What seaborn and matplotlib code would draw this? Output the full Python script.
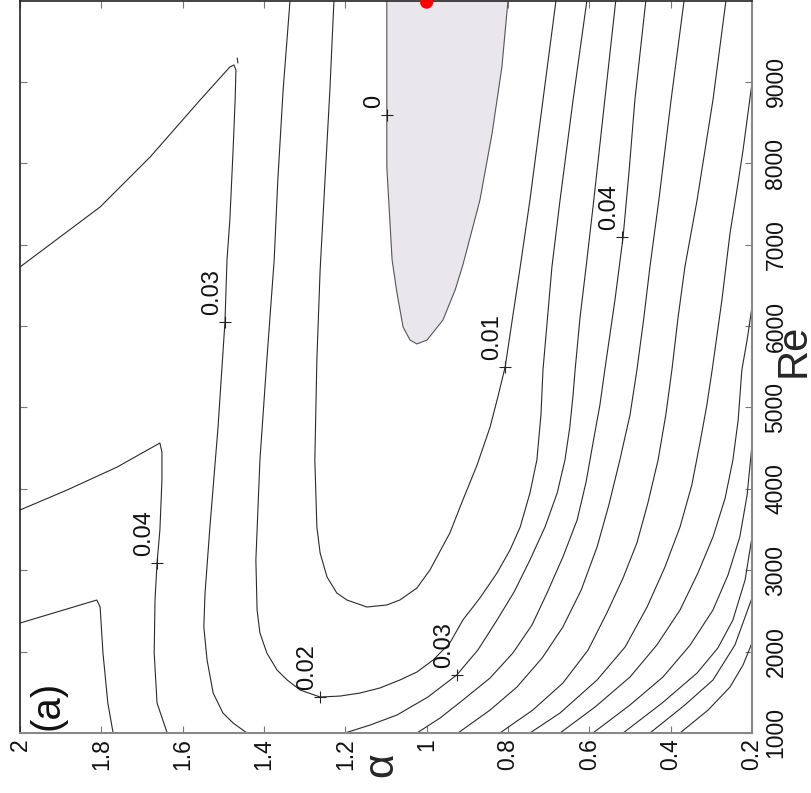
import matplotlib
matplotlib.use("Agg")
import matplotlib.pyplot as plt
import seaborn as sns

sns.set_style("ticks")
plt.rcParams['font.family'] = ['Liberation Sans', 'DejaVu Sans']

# ---- axis ticks -------------------------------------------------------
alpha_ticks = [2.0, 1.8, 1.6, 1.4, 1.2, 1.0, 0.8, 0.6, 0.4, 0.2]
alpha_tick_labels = ['2', '1.8', '1.6', '1.4', '1.2', '1', '0.8', '0.6', '0.4', '0.2']
re_ticks = [1000, 2000, 3000, 4000, 5000, 6000, 7000, 8000, 9000]
re_tick_labels = ['1000', '2000', '3000', '4000', '5000', '6000', '7000', '8000', '9000']

# ---- contour lines (alpha, Re) -----------------------------------------
c000_alpha = [1.098, 1.098, 1.098, 1.085, 1.073, 1.058, 1.041, 1.024, 0.999, 0.960, 0.930, 0.911, 0.869, 0.839, 0.815, 0.800]
c000_re = [10000, 8900, 7954, 6812, 6406, 5988, 5829, 5780, 5829, 6074, 6443, 6750, 7549, 8372, 9183, 10000]

c001_alpha = [1.228, 1.238, 1.250, 1.262, 1.270, 1.275, 1.270, 1.262, 1.245, 1.221, 1.196, 1.147, 1.098, 1.066, 1.024, 0.992, 0.943, 0.911, 0.876, 0.844, 0.825, 0.807, 0.770, 0.746, 0.714, 0.682]
c001_re = [10000, 8900, 7795, 6689, 5583, 4354, 3531, 3211, 2917, 2720, 2634, 2548, 2573, 2634, 2781, 3003, 3457, 3863, 4293, 4760, 5128, 5497, 6726, 7549, 8778, 10000]

c002_alpha = [1.336, 1.353, 1.366, 1.375, 1.393, 1.410, 1.420, 1.417, 1.410, 1.393, 1.368, 1.343, 1.311, 1.262, 1.213, 1.164, 1.115, 1.066, 1.024, 0.984, 0.943, 0.911, 0.869, 0.827, 0.795, 0.770, 0.746, 0.729, 0.719, 0.714, 0.692, 0.672, 0.640, 0.606]
c002_re = [10000, 8900, 7795, 6812, 5583, 4354, 3126, 2511, 2229, 1983, 1774, 1651, 1528, 1442, 1454, 1491, 1553, 1651, 1749, 1897, 2106, 2388, 2659, 2966, 3249, 3531, 3949, 4354, 4907, 5460, 6726, 7549, 8778, 10000]

c003L_alpha = [2.000, 1.803, 1.680, 1.557, 1.484, 1.474, 1.469, 1.471, 1.476, 1.484, 1.491, 1.496, 1.513, 1.533, 1.545, 1.548, 1.540, 1.525, 1.501, 1.476, 1.442]
c003L_re = [6726, 7463, 8077, 8778, 9183, 9208, 9146, 8778, 8163, 7303, 6812, 6050, 4760, 3531, 2720, 2302, 1897, 1491, 1246, 1123, 1000]
c003_islet_alpha = [1.466, 1.464]
c003_islet_re = [9294, 9232]

c003R_alpha = [1.201, 1.139, 1.073, 0.997, 0.926, 0.874, 0.827, 0.785, 0.746, 0.709, 0.679, 0.660, 0.648, 0.640, 0.635, 0.623, 0.608, 0.589, 0.562, 0.535]
c003R_re = [1000, 1098, 1221, 1442, 1713, 2020, 2388, 2733, 3126, 3531, 3949, 4354, 4760, 5153, 5460, 6099, 6726, 7549, 8778, 10000]

c004L_alpha = [2.000, 1.884, 1.761, 1.656, 1.651, 1.651, 1.656, 1.663, 1.668, 1.670, 1.663, 1.638]
c004L_re = [3740, 3986, 4268, 4563, 4452, 4108, 3494, 3088, 2634, 1983, 1368, 1000]

c004R_alpha = [1.024, 0.967, 0.911, 0.844, 0.788, 0.741, 0.704, 0.665, 0.630, 0.608, 0.591, 0.574, 0.562, 0.537, 0.517, 0.502, 0.488, 0.461]
c004R_re = [1000, 1184, 1405, 1676, 1983, 2327, 2720, 3163, 3617, 4084, 4563, 5030, 5460, 6320, 7094, 7918, 8778, 10000]

c005L_alpha = [2.000, 1.811, 1.803, 1.796, 1.784, 1.771]
c005L_re = [2351, 2634, 2548, 1983, 1368, 1000]

c005R_alpha = [0.923, 0.844, 0.778, 0.716, 0.665, 0.620, 0.581, 0.552, 0.525, 0.500, 0.483, 0.466, 0.451, 0.429, 0.399, 0.367]
c005R_re = [1000, 1282, 1565, 1922, 2303, 2757, 3285, 3802, 4354, 4907, 5460, 6099, 6726, 7549, 8778, 10000]

c006_alpha = [0.820, 0.739, 0.665, 0.603, 0.557, 0.517, 0.483, 0.456, 0.431, 0.412, 0.397, 0.382, 0.365, 0.335, 0.296, 0.264]
c006_re = [1000, 1282, 1614, 2020, 2474, 2905, 3335, 3826, 4354, 4907, 5460, 6099, 6726, 7549, 8778, 10000]

c007_alpha = [0.746, 0.672, 0.581, 0.512, 0.458, 0.414, 0.377, 0.348, 0.328, 0.311, 0.298, 0.274, 0.254, 0.237, 0.222, 0.200]
c007_re = [1000, 1246, 1651, 2057, 2548, 3040, 3531, 4047, 4563, 5030, 5460, 6320, 7143, 7672, 8163, 8987]

c008_alpha = [0.672, 0.586, 0.500, 0.434, 0.377, 0.333, 0.296, 0.266, 0.247, 0.234, 0.225, 0.212, 0.200]
c008_re = [1000, 1319, 1688, 2081, 2511, 2966, 3408, 3887, 4354, 4846, 5460, 5829, 6234]

c009_alpha = [0.591, 0.500, 0.419, 0.352, 0.296, 0.259, 0.230, 0.212, 0.200]
c009_re = [1000, 1344, 1688, 2081, 2511, 2941, 3408, 3924, 4539]

c010_alpha = [0.517, 0.421, 0.335, 0.284, 0.247, 0.217, 0.200]
c010_re = [1000, 1368, 1737, 2044, 2388, 2880, 3408]

c011_alpha = [0.451, 0.365, 0.296, 0.242, 0.200]
c011_re = [1000, 1344, 1651, 2081, 2659]

c012_alpha = [0.377, 0.308, 0.254, 0.222, 0.200]
c012_re = [1000, 1282, 1565, 1836, 2106]

# contour labels (text, position of the '+' mark)
label_text = ["0", "0.01", "0.02", "0.03", "0.03", "0.04", "0.04"]
label_alpha = [1.098, 0.807, 1.262, 1.496, 0.926, 1.663, 0.520]
label_re = [8593, 5497, 1442, 6050, 1713, 3088, 7094]

# optimum point
opt_alpha = [1.0]
opt_re = [9980]

# ---- figure -----------------------------------------------------------
W, H = 812, 793
fig = plt.figure(figsize=(W / 100, H / 100), dpi=100)
ax = fig.add_axes([20 / W, 1 - 733 / H, 732 / W, 732.5 / H])

ax.fill(c000_alpha, c000_re, color='#e9e7ec', lw=0, zorder=1)

line_color = '#2a2a2a'
curves = [
    (c000_alpha, c000_re, '#555555'),
    (c001_alpha, c001_re, line_color),
    (c002_alpha, c002_re, line_color),
    (c003L_alpha, c003L_re, line_color),
    (c003_islet_alpha, c003_islet_re, line_color),
    (c003R_alpha, c003R_re, line_color),
    (c004L_alpha, c004L_re, line_color),
    (c004R_alpha, c004R_re, line_color),
    (c005L_alpha, c005L_re, line_color),
    (c005R_alpha, c005R_re, line_color),
    (c006_alpha, c006_re, line_color),
    (c007_alpha, c007_re, line_color),
    (c008_alpha, c008_re, line_color),
    (c009_alpha, c009_re, line_color),
    (c010_alpha, c010_re, line_color),
    (c011_alpha, c011_re, line_color),
    (c012_alpha, c012_re, line_color),
]
for a, r, col in curves:
    sns.lineplot(x=a, y=r, sort=False, estimator=None, color=col, lw=0.8,
                 ax=ax, zorder=2)

sns.scatterplot(x=label_alpha, y=label_re, marker='+', s=70, color='#222222',
                linewidth=0.8, ax=ax, zorder=3)
for t, a, r in zip(label_text, label_alpha, label_re):
    ax.annotate(t, xy=(a, r), xytext=(-9.4, 5), textcoords='offset points',
                rotation=90, rotation_mode='anchor', ha='left', va='center',
                fontsize=17, color='#111111', zorder=4)

sns.scatterplot(x=opt_alpha, y=opt_re, color='red', s=90, edgecolor='none',
                ax=ax, zorder=6, clip_on=False)

ax.set_xlim(2.0, 0.2)
ax.set_ylim(1000, 10000)
ax.set_xticks(alpha_ticks, labels=alpha_tick_labels, rotation=90,
              ha='center', va='top')
ax.set_yticks(re_ticks, labels=re_tick_labels, rotation=90, va='center')
ax.tick_params(axis='both', direction='in', length=5, width=0.8,
               color='#777777', labelsize=16.5, labelcolor='#111111',
               top=True, right=True, left=True, bottom=True,
               labelleft=False, labelright=True, labeltop=False,
               labelbottom=True)
ax.tick_params(axis='x', pad=4)
ax.tick_params(axis='y', pad=9)

ax.set_xlabel('α', fontsize=31, rotation=90)
ax.xaxis.set_label_coords(0.493, -0.0437)
ax.xaxis.label.set_va('center')
ax.xaxis.label.set_ha('center')

ax.set_ylabel('Re', fontsize=30, rotation=90)
ax.yaxis.set_label_position('right')
ax.yaxis.set_label_coords(1.057, 0.523)
ax.yaxis.label.set_va('center')
ax.yaxis.label.set_ha('center')

ax.text(0.038, 0.038, '(a)', transform=ax.transAxes, rotation=90,
        ha='center', va='center', fontsize=29, color='#111111')

for side in ['left', 'top']:
    ax.spines[side].set_color('#222222')
    ax.spines[side].set_linewidth(1.2)
for side in ['right', 'bottom']:
    ax.spines[side].set_color('#888888')
    ax.spines[side].set_linewidth(1.5)

fig.savefig('out.png', dpi=100)
